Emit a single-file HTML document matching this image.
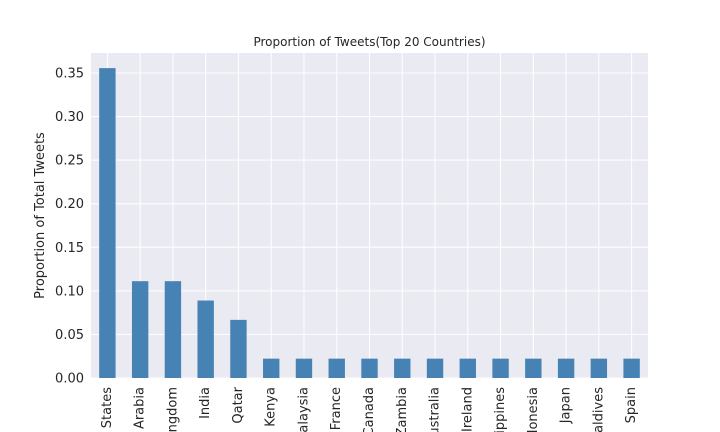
<!DOCTYPE html>
<html><head><meta charset="utf-8"><style>
html,body{margin:0;background:#fff;width:720px;height:432px;overflow:hidden;}
svg{display:block;overflow:hidden;font-family:"DejaVu Sans","Liberation Sans",sans-serif;}
</style></head><body>
<svg id="chart" width="720" height="432">
<text x="369.5" y="46" font-size="12" text-anchor="middle" fill="#262626">Proportion of Tweets(Top 20 Countries)</text>
<rect x="91" y="53" width="557" height="325" fill="#eaeaf2"/>
<g id="grid"></g><g id="bars"></g><g id="yticks"></g><g id="xticks"></g>
<text transform="translate(44,215.5) rotate(-90)" font-size="13" text-anchor="middle" fill="#262626">Proportion of Total Tweets</text>
</svg>
<script>
const categories=["United States","Saudi Arabia","United Kingdom","India","Qatar","Kenya","Malaysia","France","Canada","Zambia","Australia","Ireland","Philippines","Indonesia","Japan","Maldives","Spain"];
const values=[0.3556,0.1111,0.1111,0.0889,0.0667,0.0222,0.0222,0.0222,0.0222,0.0222,0.0222,0.0222,0.0222,0.0222,0.0222,0.0222,0.0222];
const yTicks=[0,0.05,0.10,0.15,0.20,0.25,0.30,0.35];
const yTickLabels=["0.00","0.05","0.10","0.15","0.20","0.25","0.30","0.35"];
const NS="http://www.w3.org/2000/svg";
const L=91,R=648,T=53,B=378;
const yMax=0.35*(B-T)/305;
function y(v){return B-v/yMax*(B-T);}
const step=(R-L)/categories.length;
function x(i){return L+step*(i+0.5);}
function mk(tag,attrs,parent){const e=document.createElementNS(NS,tag);for(const k in attrs)e.setAttribute(k,attrs[k]);document.getElementById(parent).appendChild(e);return e;}
yTicks.forEach((t,i)=>{
 const g=mk('line',{x1:L,x2:R,y1:y(t),y2:y(t),stroke:'#fff','stroke-width':1},'grid');
 
 
 const tx=mk('text',{x:L-7,y:y(t)+4.5,'font-size':13,'text-anchor':'end',fill:'#262626'},'yticks');
 tx.textContent=yTickLabels[i];
 
 
});
categories.forEach((c,i)=>{
 const g=mk('line',{x1:x(i),x2:x(i),y1:T,y2:B,stroke:'#fff','stroke-width':1},'grid');
 
 
 const w=step*0.5;
 const r=mk('rect',{x:x(i)-w/2,y:y(values[i]),width:w,height:B-y(values[i]),fill:'#4682b4'},'bars');
 
 
 const tx=mk('text',{x:x(i),y:387,'font-size':13,'text-anchor':'end','dominant-baseline':'central',fill:'#262626',transform:`rotate(-90 ${x(i)} 387)`},'xticks');
 tx.textContent=c;
 
 
});
</script>
</body></html>
